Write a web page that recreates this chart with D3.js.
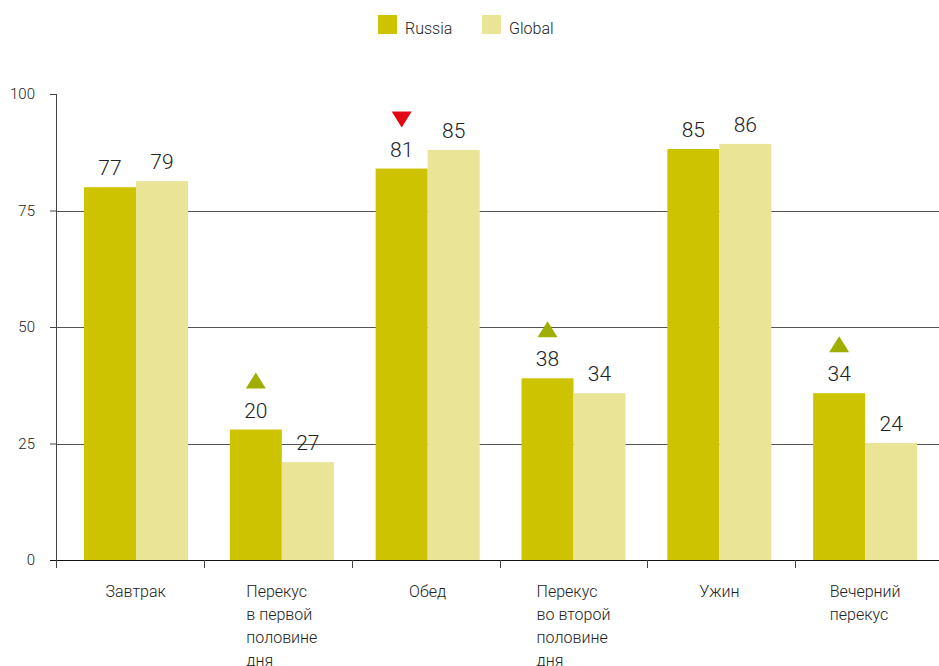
<!DOCTYPE html>
<meta charset="utf-8">
<style>
body { margin: 0; background: #fff; }
text { font-family: Roboto, "Open Sans", sans-serif; fill: #222; font-weight: 300; }
.grid line { stroke: #555; stroke-width: 1px; }
.axis path, .axis line { stroke: #444; }
</style>
<body>
<script src="https://d3js.org/d3.v7.min.js"></script>
<script>

// categories (multi-line labels)
var categories = [
  ["Завтрак"],
  ["Перекус", "в первой", "половине", "дня"],
  ["Обед"],
  ["Перекус", "во второй", "половине", "дня"],
  ["Ужин"],
  ["Вечерний", "перекус"]
];
var seriesNames = ["Russia", "Global"];
// bar heights as drawn
var russiaBars = [80, 28, 84, 39, 88.2, 35.8];
var globalBars = [81.3, 21, 88, 35.8, 89.3, 25.1];
// printed value labels
var russiaLabels = [77, 20, 81, 38, 85, 34];
var globalLabels = [79, 27, 85, 34, 86, 24];
// change markers above Russia bars: up / down / none
var markers = [null, "up", "down", "up", null, "up"];
var yTicks = [0, 25, 50, 75, 100];

var colors = {Russia: "#cdc300", Global: "#e9e496"};

var margin = {top: 94, right: 0, bottom: 106, left: 56},
    width = 939 - margin.left - margin.right,
    height = 666 - margin.top - margin.bottom;

var svg = d3.select("body").append("svg")
    .attr("width", 939)
    .attr("height", 666);

var g = svg.append("g")
    .attr("transform", "translate(" + margin.left + "," + margin.top + ")");

// tick positions and bar groups use slightly different bands (as in the original)
var xTick = d3.scaleBand().domain(d3.range(categories.length)).range([0, 887]);
var x = d3.scaleBand().domain(d3.range(categories.length)).range([28, 28 + 875]);
var y = d3.scaleLinear().domain([0, 100]).range([height, 0]);

var barW = 52;

// gridlines
g.append("g").attr("class", "grid")
  .selectAll("line")
  .data(yTicks.filter(function(d) { return d > 0 && d < 100; }))
  .enter().append("line")
    .attr("x1", 0).attr("x2", width)
    .attr("y1", function(d) { return Math.round(y(d)) + 0.5; })
    .attr("y2", function(d) { return Math.round(y(d)) + 0.5; });

// bars
var data = categories.map(function(c, i) {
  return {i: i, russia: russiaBars[i], global: globalBars[i],
          rl: russiaLabels[i], gl: globalLabels[i], m: markers[i]};
});

var grp = g.selectAll(".grp").data(data).enter().append("g")
    .attr("transform", function(d) { return "translate(" + x(d.i) + ",0)"; });

grp.append("rect")
    .attr("x", 0).attr("width", barW)
    .attr("y", function(d) { return y(d.russia); })
    .attr("height", function(d) { return height - y(d.russia); })
    .attr("fill", colors.Russia);
grp.append("rect")
    .attr("x", barW).attr("width", barW)
    .attr("y", function(d) { return y(d.global); })
    .attr("height", function(d) { return height - y(d.global); })
    .attr("fill", colors.Global);

grp.append("text")
    .attr("x", barW / 2).attr("y", function(d) { return y(d.russia) - 12; })
    .attr("text-anchor", "middle").style("font-size", "21px")
    .text(function(d) { return d.rl; });
grp.append("text")
    .attr("x", barW * 1.5).attr("y", function(d) { return y(d.global) - 12; })
    .attr("text-anchor", "middle").style("font-size", "21px")
    .text(function(d) { return d.gl; });

// triangles
grp.filter(function(d) { return d.m; }).append("path")
    .attr("transform", function(d) {
      return "translate(" + (barW / 2) + "," + (y(d.russia) - 49) + ")" + (d.m == "down" ? " rotate(180)" : "");
    })
    .attr("d", "M-10,8L10,8L0,-8Z")
    .attr("fill", function(d) { return d.m == "down" ? "#e30613" : "#9fae00"; });

// y axis
var yAxis = g.append("g").attr("class", "axis")
    .call(d3.axisLeft(y).tickValues(yTicks).tickSize(6).tickSizeOuter(0));
yAxis.selectAll("text").style("font-size", "15px").style("font-family", "Roboto").attr("x", -21);
yAxis.select(".domain").attr("d", "M0.5," + y(100) + "V" + height);
yAxis.selectAll(".tick line").attr("x2", function(d) { return d == 0 ? width : 0; }).attr("x1", -6)
    .style("stroke", function(d) { return d == 0 ? "#111" : "#444"; });

// x axis ticks
g.append("g").selectAll("line")
  .data(d3.range(categories.length))
  .enter().append("line")
    .attr("x1", function(d) { return Math.round(xTick(d)) + 0.5; })
    .attr("x2", function(d) { return Math.round(xTick(d)) + 0.5; })
    .attr("y1", height).attr("y2", height + 8)
    .attr("stroke", "#444");

// x labels: left aligned block centred on bar group
var xl = g.selectAll(".xl").data(data).enter().append("text")
    .attr("class", "xl")
    .style("font-size", "16px");
xl.each(function(d) {
  var t = d3.select(this);
  categories[d.i].forEach(function(line, k) {
    t.append("tspan").attr("x", 0).attr("y", height + 37 + k * 23).text(line);
  });
  var w = this.getBBox().width;
  t.attr("transform", "translate(" + (x(d.i) + barW - w / 2) + ",0)");
});

// legend
var legend = svg.append("g").attr("transform", "translate(378,15)");
seriesNames.forEach(function(s, i) {
  var lg = legend.append("g").attr("transform", "translate(" + (i * 104) + ",0)");
  lg.append("rect").attr("width", 19).attr("height", 19).attr("fill", colors[s]);
  lg.append("text").attr("x", 27).attr("y", 19).style("font-size", "16px").text(s);
});

</script>
</body>
